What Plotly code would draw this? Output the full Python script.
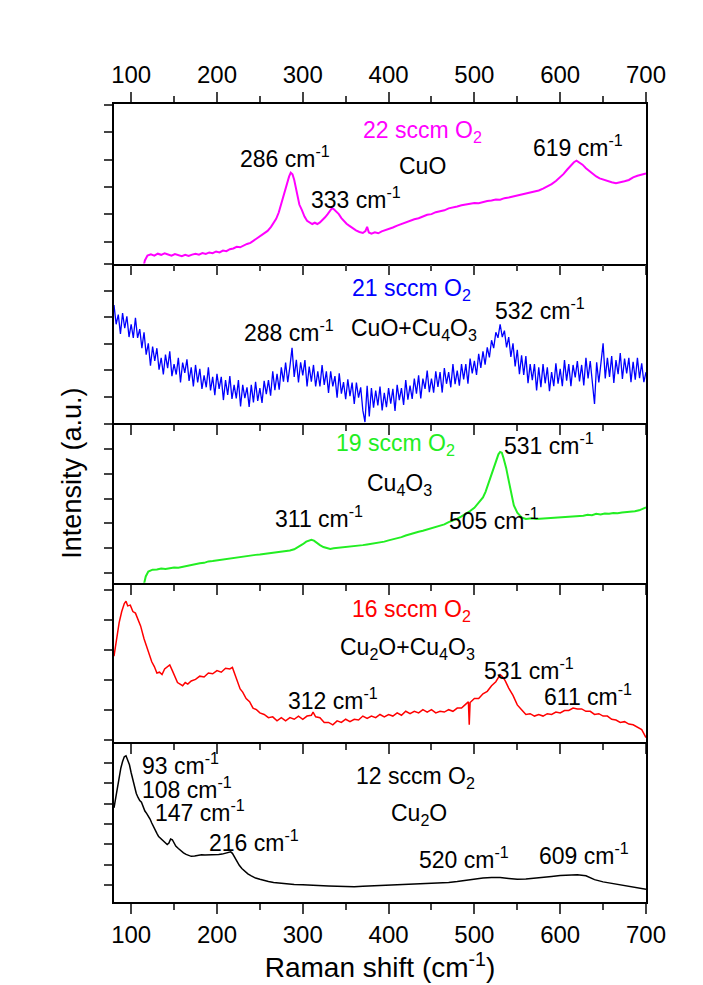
import plotly.graph_objects as go

# ---------------- data ----------------
# Raman shift (cm-1) / relative intensity in each panel (0-100 panel units)
x_22 = [114, 116, 119, 123, 127, 131, 135, 139, 143, 147, 151, 155, 159, 163, 167, 171, 175, 179, 183, 187,
        191, 195, 199, 203, 207, 211, 215, 219, 223, 227, 231, 235, 239, 243, 247, 251, 255, 259, 263, 266,
        269, 272, 275, 278, 281, 284, 286, 288, 290, 292, 294, 296, 299, 302, 305, 308, 311, 314, 317, 320,
        323, 326, 329, 332, 334, 336, 339, 342, 345, 348, 351, 354, 358, 362, 366, 370, 373, 375, 377, 380,
        384, 388, 392, 396, 400, 405, 410, 415, 420, 425, 430, 435, 440, 445, 450, 455, 460, 465, 470, 475,
        480, 485, 490, 495, 500, 505, 510, 515, 520, 525, 530, 535, 540, 545, 550, 555, 560, 565, 570, 575,
        580, 585, 590, 595, 600, 604, 608, 612, 616, 619, 622, 626, 630, 634, 638, 642, 646, 650, 655, 660,
        665, 670, 675, 680, 685, 690, 695, 700]
y_22 = [-3, 2, 5, 5.8, 5.0, 6.2, 5.5, 6.4, 5.7, 5.0, 6.0, 5.2, 4.6, 5.5, 4.8, 5.6, 6.2, 5.6, 6.6, 6.0,
        7.0, 6.5, 7.6, 7.0, 8.2, 7.8, 9.0, 9.5, 10.5, 10.2, 11.5, 12.3, 13.0, 14.5, 15.8, 17.0, 18.8, 20.5, 23.0, 25.5,
        28.0, 32.0, 37.5, 43.5, 49.5, 54.5, 57.0, 56.0, 52.5, 47.0, 41.5, 37.0, 33.5, 29.5, 26.8, 25.5, 24.8, 25.6, 24.8, 25.8,
        27.2, 29.0, 31.0, 33.0, 34.7, 34.2, 32.8, 31.0, 28.5, 26.5, 25.0, 23.8, 22.0, 20.8, 19.8, 19.2, 20.4, 23.0, 19.5, 18.8,
        19.6, 19.0, 20.2, 20.8, 21.8, 22.6, 23.8, 24.8, 26.0, 26.8, 27.8, 28.4, 29.4, 30.6, 31.0, 32.2, 32.8, 33.4, 34.6, 35.0,
        35.8, 36.6, 37.0, 37.4, 38.0, 37.8, 38.6, 39.2, 39.6, 40.2, 40.0, 41.0, 41.4, 42.0, 42.4, 43.0, 43.6, 44.2, 45.0, 45.8,
        47.0, 48.2, 49.8, 51.8, 54.0, 56.2, 58.8, 61.5, 63.5, 64.5, 63.6, 62.0, 59.8, 58.0, 56.0, 54.6, 53.4, 52.6, 51.8, 51.0,
        50.4, 50.8, 51.6, 52.4, 54.0, 55.0, 55.6, 56.4]

x_21 = [80 + 2.5 * k for k in range(249)]
y_21 = [74, 62, 68, 56, 69, 59.5, 67, 54, 62, 53.5, 66, 53.5, 59, 47, 57, 43, 50, 36, 48, 39,
        47, 33.5, 41, 30.5, 43, 34.5, 45, 29.5, 37, 30.5, 41, 25.5, 38, 31.5, 40, 26.5, 35, 23, 36.5, 25.5,
        34, 21.5, 30, 22.5, 35, 20.5, 29, 17.5, 31, 21.5, 29, 14.5, 27, 17.7, 29.5, 15.2, 24, 15.5, 27, 10.5,
        24, 15.7, 22.5, 10.2, 24, 13, 26, 14, 22, 12.7, 26.5, 18.2, 27, 17.2, 32.5, 20.7, 31, 21, 35, 26,
        38, 25.7, 35.5, 47.2, 29, 39.7, 25.5, 38.2, 30, 39.5, 23, 35.5, 26, 36.5, 23, 32.5, 23, 36.5, 24, 32.5,
        19, 32.5, 23, 29.5, 16, 31.2, 18.5, 25.7, 15, 27.5, 17, 25.5, 12, 25.5, 16, 22.5, 8, 0.7, 23.5, 4.2,
        22, 9.7, 20.5, 11.2, 23, 8, 19, 10, 22, 12.2, 21.5, 7.7, 24, 14.5, 22, 11.5, 27, 14.7, 23.5, 15.2,
        28, 18.5, 30, 15.5, 28, 21.5, 33, 19.5, 28, 19.2, 32.5, 22.7, 32, 19.2, 34.5, 24.7, 32, 22.5, 37, 24.5,
        33, 23.5, 37, 27.5, 37, 24.7, 40.5, 31.2, 39, 30.2, 43.5, 34.7, 45, 36.7, 47.5, 41.2, 52, 47, 57, 53.5,
        62, 54, 58, 47.5, 54, 41.5, 50, 35.5, 46, 30.7, 42.5, 30.2, 42, 25, 37, 27, 37, 20.5, 35, 22.5,
        37, 25, 35, 20, 32, 23.2, 37.5, 24.7, 34, 23.2, 39.5, 26.7, 37, 23.2, 36.5, 28.7, 39, 26.2, 36.5, 23.7,
        41, 28, 39, 26, 12, 38.2, 25.5, 37.7, 50, 28, 41, 29, 42, 25.2, 39.5, 30.7, 44, 27.7, 40.5, 31.2,
        41, 25.7, 38.5, 27.2, 41, 28.2, 37.5, 25.7, 32]

x_19 = [114, 117, 120, 125, 130, 135, 140, 145, 150, 155, 160, 165, 170, 175, 180, 185, 190, 195, 200, 205,
        210, 215, 220, 225, 230, 235, 240, 245, 250, 255, 260, 265, 270, 275, 280, 285, 290, 295, 300, 304,
        307, 310, 313, 316, 320, 324, 328, 332, 336, 340, 345, 350, 355, 360, 365, 370, 375, 380, 385, 390,
        395, 400, 405, 410, 415, 420, 425, 430, 435, 440, 445, 450, 455, 460, 465, 470, 475, 480, 485, 490,
        495, 500, 505, 510, 513, 516, 519, 522, 525, 528, 530, 532, 534, 537, 540, 543, 546, 550, 555, 560,
        567, 572, 577, 582, 587, 592, 597, 602, 607, 612, 617, 622, 627, 632, 637, 642, 647, 652, 657, 662,
        667, 672, 677, 682, 687, 692, 696, 700]
y_19 = [-3, 4, 7.0, 8.2, 8.4, 8.9, 8.7, 9.0, 9.6, 9.4, 10.0, 10.6, 10.8, 11.4, 12.2, 12.5, 13.4, 13.6, 14.0, 14.6,
        15.0, 15.4, 15.6, 16.2, 16.4, 16.8, 17.0, 17.5, 17.7, 18.0, 18.4, 18.8, 19.0, 19.4, 19.8, 20.2, 21.0, 22.4, 24.2, 25.8,
        26.6, 27.0, 26.4, 25.0, 23.6, 22.4, 21.6, 21.2, 21.6, 21.8, 22.0, 22.4, 22.6, 23.0, 23.2, 23.6, 24.0, 24.4, 25.0, 25.4,
        25.8, 26.6, 27.2, 27.8, 28.6, 29.6, 30.4, 31.6, 32.0, 32.6, 33.4, 34.2, 35.0, 35.6, 36.6, 38.0, 39.0, 40.0, 41.6, 43.2,
        45.0, 47.0, 50.0, 53.5, 57.0, 62.0, 67.0, 72.0, 77.0, 80.5, 82.0, 81.5, 78.0, 72.0, 64.0, 55.0, 48.5, 44.0, 41.0, 40.0,
        40.4, 40.0, 40.2, 40.4, 40.6, 40.4, 40.8, 41.0, 41.4, 41.2, 41.8, 42.0, 42.0, 42.6, 42.4, 43.2, 42.8, 43.4, 43.2, 43.8,
        43.6, 44.0, 44.2, 44.6, 44.8, 45.4, 46.4, 47.2]

x_16 = [80, 83, 86, 89, 92, 94, 96, 99, 102, 105, 108, 111, 115, 118, 121, 124, 127, 130, 133, 136,
        139, 142, 145, 148, 151, 154, 157, 160, 163, 166, 170, 175, 180, 185, 190, 195, 200, 205, 210, 215,
        218, 221, 224, 227, 230, 234, 238, 242, 246, 250, 255, 260, 265, 270, 275, 280, 285, 290, 295, 300,
        305, 310, 312, 315, 320, 325, 330, 335, 340, 345, 350, 355, 360, 365, 370, 375, 380, 385, 390, 395,
        400, 405, 410, 415, 420, 425, 430, 435, 440, 445, 450, 455, 460, 465, 470, 475, 480, 485, 490, 493,
        494, 495, 500, 505, 510, 515, 520, 525, 530, 533, 536, 540, 545, 550, 555, 560, 565, 570, 575, 580,
        585, 590, 595, 600, 605, 610, 615, 620, 625, 630, 635, 640, 645, 650, 655, 660, 665, 670, 675, 680,
        685, 690, 695, 700]
y_16 = [54, 66, 75, 82, 87, 88.5, 85.5, 86, 82, 81, 77, 73, 65, 60, 56.5, 50.5, 47.5, 43.5, 44, 42.5,
        46, 47.5, 48.5, 45, 41.5, 37.5, 36.5, 35.5, 37.5, 36.5, 38.5, 39.5, 41.5, 41, 43.5, 43, 45, 44, 46.5, 46,
        47, 42, 38.5, 33.5, 31.5, 27.5, 25.5, 21.5, 20.5, 18.5, 17.5, 15.5, 16, 13.5, 15.5, 13.5, 15.5, 14.5, 16.5, 14.5,
        16.5, 17, 19, 16, 15.5, 12.5, 12.5, 11, 13.5, 12.5, 14.5, 13, 14.5, 14, 16.5, 15, 16.5, 15.5, 17.5, 16,
        17.5, 16.5, 18.5, 17, 19.5, 18, 19.5, 18.5, 20.5, 19, 20.5, 18.5, 19.5, 19, 20.5, 19.5, 21.5, 21.5, 24, 25.5,
        11, 25, 27.5, 27.5, 30.5, 32, 35.5, 38, 42.5, 41, 38.5, 34, 29.5, 23.5, 20.5, 17.5, 18, 16.5, 17.5, 16.5,
        18, 17.5, 19, 18.5, 20, 20, 21.5, 21, 21, 19.5, 19.5, 17.5, 18, 16.5, 16.5, 14.5, 14, 12.5, 13, 11.5,
        11, 9.5, 8, 3]

x_12 = [80, 82, 84, 86, 88, 90, 92, 94, 96, 98, 100, 102, 104, 106, 108, 110, 112, 114, 116, 118,
        120, 122, 124, 126, 128, 130, 132, 134, 136, 138, 140, 142, 144, 146, 148, 150, 152, 155, 158, 161,
        164, 167, 170, 174, 178, 182, 186, 190, 194, 198, 202, 206, 210, 214, 216, 218, 220, 223, 226, 229,
        232, 236, 240, 245, 250, 255, 260, 266, 272, 280, 290, 300, 310, 320, 330, 340, 350, 360, 370, 380,
        390, 400, 410, 420, 430, 440, 450, 460, 470, 480, 490, 500, 510, 520, 530, 540, 550, 560, 570, 580,
        590, 600, 610, 620, 630, 640, 650, 660, 670, 680, 690, 700]
y_12 = [59, 66, 72, 78, 84, 88, 91, 91.6, 89, 86, 81, 76, 72, 68, 65.5, 63.5, 62.5, 59, 57, 55.5,
        54, 52, 49.5, 47, 45, 43, 41, 40, 38.8, 37.5, 36.5, 36, 37, 39.5, 39, 37, 35, 33.5, 32, 30.8,
        29.8, 29.0, 28.6, 28.8, 29.2, 29.6, 29.4, 29.4, 29.8, 29.4, 29.8, 30.0, 30.4, 31.2, 31.4, 30.5, 28.5, 25.6, 23.0, 21.0,
        19.4, 17.6, 16.4, 15.0, 14.2, 13.4, 12.8, 12.2, 11.8, 11.4, 11.0, 10.8, 10.4, 10.2, 10.0, 9.8, 9.6, 9.6, 9.8, 10.0,
        10.2, 10.4, 10.6, 10.8, 11.0, 11.2, 11.4, 11.8, 12.2, 12.8, 13.6, 14.4, 15.0, 15.4, 15.4, 14.8, 14.2, 14.4, 14.8, 15.4,
        16.0, 16.6, 17.0, 17.0, 16.4, 14.0, 12.6, 11.6, 10.6, 9.8, 8.8, 8.0]

tick_vals_x = [100, 200, 300, 400, 500, 600, 700]
minor_vals_x = [150, 250, 350, 450, 550, 650]

# panel labels: (x, y, text, color, xanchor)
labels = [
    [(440, 83, "22 sccm O<sub>2</sub>", "#FF00FF", "center"),
     (279, 66.5, "286 cm<sup>-1</sup>", "black", "center"),
     (440, 61.3, "CuO", "black", "center"),
     (362.5, 41.4, "333 cm<sup>-1</sup>", "black", "center"),
     (621, 73.8, "619 cm<sup>-1</sup>", "black", "center")],
    [(426.6, 83.9, "21 sccm O<sub>2</sub>", "#0000FF", "center"),
     (577, 71.4, "532 cm<sup>-1</sup>", "black", "center"),
     (339, 57.8, "288 cm<sup>-1</sup>", "black", "right"),
     (354, 58.9, "CuO+Cu<sub>4</sub>O<sub>3</sub>", "black", "left")],
    [(408, 86.7, "19 sccm O<sub>2</sub>", "#22EE22", "center"),
     (586.6, 86.7, "531 cm<sup>-1</sup>", "black", "center"),
     (413, 61.7, "Cu<sub>4</sub>O<sub>3</sub>", "black", "center"),
     (319, 41, "311 cm<sup>-1</sup>", "black", "center"),
     (522.6, 40, "505 cm<sup>-1</sup>", "black", "center")],
    [(426.6, 82.8, "16 sccm O<sub>2</sub>", "#FF0000", "center"),
     (422, 58.8, "Cu<sub>2</sub>O+Cu<sub>4</sub>O<sub>3</sub>", "black", "center"),
     (563.7, 46.2, "531 cm<sup>-1</sup>", "black", "center"),
     (335, 27.4, "312 cm<sup>-1</sup>", "black", "center"),
     (632, 29.5, "611 cm<sup>-1</sup>", "black", "center")],
    [(110, 86.4, "93 cm<sup>-1</sup>", "black", "left"),
     (110, 71.7, "108 cm<sup>-1</sup>", "black", "left"),
     (126, 57, "147 cm<sup>-1</sup>", "black", "left"),
     (243.7, 38.1, "216 cm<sup>-1</sup>", "black", "center"),
     (431, 78, "12 sccm O<sub>2</sub>", "black", "center"),
     (435.7, 54.9, "Cu<sub>2</sub>O", "black", "center"),
     (488, 27.7, "520 cm<sup>-1</sup>", "black", "center"),
     (627.7, 29.8, "609 cm<sup>-1</sup>", "black", "center")],
]

series = [
    (x_22, y_22, "#FF00FF", 2.0, 13.6, 17.2),
    (x_21, y_21, "#0000FF", 1.3, 16.5, 16.6),
    (x_19, y_19, "#22EE22", 2.0, 6.2, 15.5),
    (x_16, y_16, "#FF0000", 1.5, 1.3, 18.8),
    (x_12, y_12, "#000000", 1.5, 10.5, 12.8),
]

FONT = "Liberation Sans, Arial, sans-serif"
fig = go.Figure()
layout = dict(
    width=703, height=985,
    margin=dict(l=114, r=57, t=104, b=83),
    paper_bgcolor="white", plot_bgcolor="white",
    font=dict(family=FONT, size=22, color="black"),
    showlegend=False,
)
annotations = []
n_p = len(series)
for i, (xs, ys, col, lw, t0, dt) in enumerate(series):
    n = i + 1
    xa = "x" if n == 1 else f"x{n}"
    ya = "y" if n == 1 else f"y{n}"
    fig.add_trace(go.Scatter(x=xs, y=ys, mode="lines", line=dict(color=col, width=lw),
                             xaxis=xa, yaxis=ya, hoverinfo="skip"))
    xkey = "xaxis" if n == 1 else f"xaxis{n}"
    ykey = "yaxis" if n == 1 else f"yaxis{n}"
    top = n == 1
    bottom = n == n_p
    layout[xkey] = dict(
        domain=[0, 1], anchor=ya, range=[80, 700],
        tickvals=tick_vals_x, ticks="outside", ticklen=10, tickwidth=1.5,
        minor=dict(tickvals=minor_vals_x, ticklen=6, tickwidth=1.5, ticks="outside"),
        showline=True, linewidth=1.5, linecolor="black",
        mirror="ticks" if top else False,
        side="top" if top else "bottom",
        showticklabels=top or bottom,
        tickfont=dict(size=24, family=FONT),
        showgrid=False, zeroline=False,
    )
    if n > 1:
        layout[xkey]["matches"] = "x"
    if bottom:
        layout[xkey]["title"] = dict(text="Raman shift (cm<sup>-1</sup>)", font=dict(size=28, family=FONT), standoff=6)
    d0 = 1 - n / n_p
    d1 = 1 - (n - 1) / n_p
    layout[ykey] = dict(
        domain=[d0, d1], anchor=xa, range=[0, 100],
        tick0=t0, dtick=dt, ticks="outside", ticklen=8, tickwidth=1.5,
        showticklabels=False, showline=True, linewidth=1.5, linecolor="black",
        mirror=True, showgrid=False, zeroline=False, fixedrange=True,
    )
    for (ax, ay, txt, c, anc) in labels[i]:
        annotations.append(dict(x=ax, y=ay, xref=xa, yref=ya, text=txt, showarrow=False,
                                xanchor=anc, yanchor="middle",
                                font=dict(size=23, color=c, family=FONT)))

annotations.append(dict(x=-0.079, y=0.538, xref="paper", yref="paper", text="Intensity (a.u.)",
                        textangle=-90, showarrow=False, xanchor="center", yanchor="middle",
                        font=dict(size=27, family=FONT, color="black")))
layout["annotations"] = annotations
fig.update_layout(**layout)
fig.write_html("out.html")
